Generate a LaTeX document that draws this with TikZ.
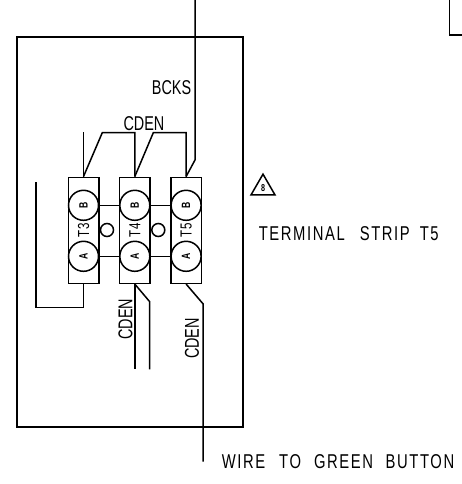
\documentclass[tikz,border=0pt]{standalone}
\usepackage{fontspec}
\setmainfont[FakeStretch=0.72]{Liberation Sans}
\newfontfamily\widefont[FakeStretch=0.74, LetterSpace=8]{Liberation Sans}
\usetikzlibrary{positioning, shapes.geometric}

\begin{document}
\begin{tikzpicture}[
		x=1pt,
		y=-1pt,
		line width=1.5pt,
		strip/.style= {
				draw,
				minimum width=30.5pt,
				minimum height=106pt,
				inner sep=0pt
			},
		term/.style= {
				draw,
				circle,
				fill=white,
				minimum size=30pt,
				inner sep=0pt,
				font=\fontsize{12}{12}\selectfont
			},
		hole/.style= {
				draw,
				circle,
				minimum size=13pt,
				inner sep=0pt
			},
		tag/.style= {
				inner sep=0pt,
				font=\fontsize{20}{20}\selectfont
			},
		longtag/.style= {
				inner sep=0pt,
				anchor=west,
				font=\fontsize{20}{20}\widefont
			},
		striptag/.style= {
				inner sep=0pt,
				rotate=90,
				font=\fontsize{16}{16}\selectfont
			}
	]
	\useasboundingbox (0,0) rectangle (462,484);

	\node[draw, minimum width=226pt, minimum height=390pt, inner sep=0pt] (panel) at (130,232) {};

	\node[strip] (T3) at (83.5,230.3) {};
	\node[strip] (T4) [right = 19.3pt of T3] {};
	\node[strip] (T5) [right = 19.3pt of T4] {};

	\node[term] (b3) [below = 13pt of T3.north] {\rotatebox{90}{\textbf{B}}};
	\node[term] (b4) [below = 13pt of T4.north] {\rotatebox{90}{\textbf{B}}};
	\node[term] (b5) [below = 13pt of T5.north] {\rotatebox{90}{\textbf{B}}};
	\node[term] (a3) [above = 12pt of T3.south] {\rotatebox{90}{\textbf{A}}};
	\node[term] (a4) [above = 12pt of T4.south] {\rotatebox{90}{\textbf{A}}};
	\node[term] (a5) [above = 12pt of T5.south] {\rotatebox{90}{\textbf{A}}};

	\node[striptag] (n3) at (T3) {T3};
	\node[striptag] (n4) at (T4) {T4};
	\node[striptag] (n5) at (T5) {T5};

	\node[hole] (h1) at (107,230) {};
	\node[hole] (h2) at (158.3,230) {};

	\draw (b3) -- (b4);
	\draw (b4) -- (b5);
	\draw (a3) -- (a4);
	\draw (a4) -- (a5);

	% top wires
	\coordinate (c1) at (83.5,132);
	\coordinate (c2) at (102.3,132.7);
	\coordinate (c3) at (134.8,132.7);
	\coordinate (c4) at (153.3,132.7);
	\coordinate (c5) at (186.1,132.7);
	\coordinate (c6) at (195,160);
	\coordinate (c7) at (195,0);
	\draw (T3.north) -- (c1);
	\draw (T3.north) -- (c2) -- (c3) -- (T4.north);
	\draw (T4.north) -- (c4) -- (c5) -- (T5.north);
	\draw (T5.north) -- (c6) -- (c7);

	% bottom wires
	\coordinate (d1) at (83.5,307.3);
	\coordinate (d2) at (36,307.3);
	\coordinate (d3) at (36,182.3);
	\coordinate (d4) at (134.8,369.3);
	\coordinate (d5) at (149.7,301.7);
	\coordinate (d6) at (149.7,369.3);
	\coordinate (d7) at (203.2,304);
	\coordinate (d8) at (203.2,461.7);
	\draw (T3.south) -- (d1) -- (d2) -- (d3);
	\draw (T4.south) -- (d4);
	\draw (T4.south) -- (d5) -- (d6);
	\draw (T5.south) -- (d7) -- (d8);

	% corner at the top right
	\coordinate (e1) at (449.3,0);
	\coordinate (e2) at (449.3,35);
	\coordinate (e3) at (462,35);
	\draw (e1) -- (e2) -- (e3);

	\node[tag] (bcks) at (171.5,88) {BCKS};
	\node[tag] (cden1) at (144,124) {CDEN};
	\node[tag, rotate=90] (cden2) at (125.5,319) {CDEN};
	\node[tag, rotate=90] (cden3) at (192,338.5) {CDEN};
	\node[longtag] (strip) at (258,234) {TERMINAL\hspace{15pt}STRIP\hspace{10pt}T5};
	\node[longtag] (wire) at (221,462) {WIRE\hspace{14pt}TO\hspace{13pt}GREEN\hspace{12.5pt}BUTTON};

	\node[draw, regular polygon, regular polygon sides=3, minimum size=27.7pt, inner sep=0pt, font=\fontsize{10}{10}\selectfont\bfseries] (rev) at (263,188) {8};
\end{tikzpicture}
\end{document}
